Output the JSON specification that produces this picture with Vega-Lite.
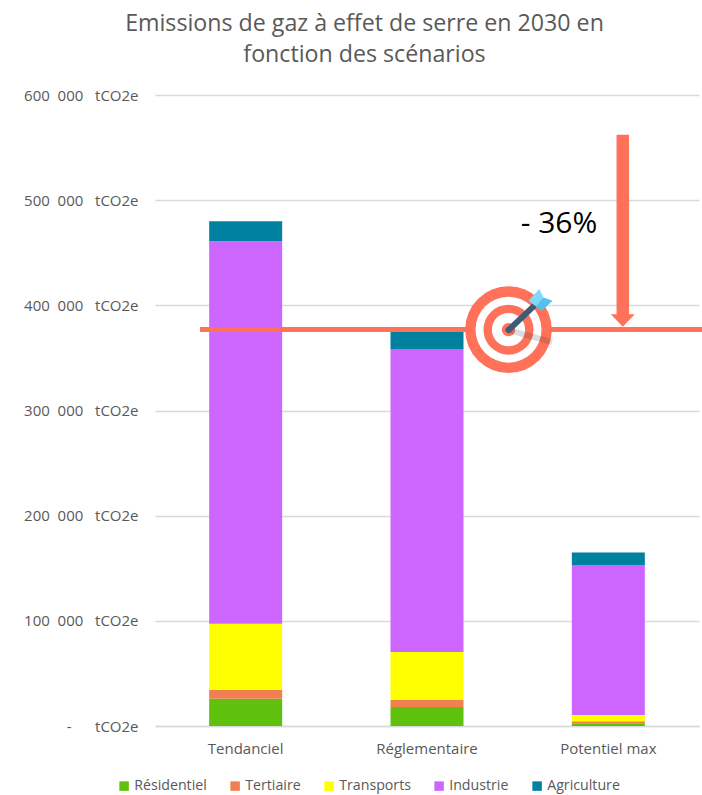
{"$schema":"https://vega.github.io/schema/vega-lite/v6.json","width":544,"height":631,"autosize":{"type":"none"},"padding":{"left":155,"top":95,"right":3,"bottom":69},"background":"white",
"title":{"text":["Emissions de gaz à effet de serre en 2030 en","fonction des scénarios"],"font":"Open Sans","fontSize":23.2,"fontWeight":"normal","color":"#595959","lineHeight":31,"anchor":"middle","dx":-62.5,"offset":21},
"config":{"view":{"stroke":null},"legend":{"labelFont":"Open Sans"}},
"datasets":{"bars":[
{"scenario":"Tendanciel","secteur":"Résidentiel","rang":1,"val":26000},
{"scenario":"Tendanciel","secteur":"Tertiaire","rang":2,"val":8500},
{"scenario":"Tendanciel","secteur":"Transports","rang":3,"val":62700},
{"scenario":"Tendanciel","secteur":"Industrie","rang":4,"val":363800},
{"scenario":"Tendanciel","secteur":"Agriculture","rang":5,"val":19000},
{"scenario":"Réglementaire","secteur":"Résidentiel","rang":1,"val":18000},
{"scenario":"Réglementaire","secteur":"Tertiaire","rang":2,"val":6700},
{"scenario":"Réglementaire","secteur":"Transports","rang":3,"val":45600},
{"scenario":"Réglementaire","secteur":"Industrie","rang":4,"val":287700},
{"scenario":"Réglementaire","secteur":"Agriculture","rang":5,"val":17500},
{"scenario":"Potentiel max","secteur":"Résidentiel","rang":1,"val":2500},
{"scenario":"Potentiel max","secteur":"Tertiaire","rang":2,"val":2000},
{"scenario":"Potentiel max","secteur":"Transports","rang":3,"val":6000},
{"scenario":"Potentiel max","secteur":"Industrie","rang":4,"val":142500},
{"scenario":"Potentiel max","secteur":"Agriculture","rang":5,"val":12000}],
"objectif":[{"a":45,"b":547,"v":377000}],
"fleche":[{"a":467.8,"v":562300,"v2":389700}],
"pointe":[{"a":467.8,"v":385500}],
"cible":[{"a":353.5,"v":376900}],
"ombre":[{"a":353.5,"b":397,"v":376500,"v2":365000}],
"dard":[{"a":353.5,"b":378,"v":376500,"v2":398500}],
"plume":[{"a":385.5,"v":405000}],
"label":[{"a":404,"v":468600,"t":"- 36%"}]},
"resolve":{"scale":{"x":"independent"}},
"layer":[
{"data":{"name":"bars"},"mark":{"type":"bar","width":73},
"encoding":{"x":{"field":"scenario","type":"nominal","sort":["Tendanciel","Réglementaire","Potentiel max"],"title":null,"axis":{"labelAngle":0,"labelFont":"Open Sans","labelFontSize":15,"labelColor":"#595959","ticks":false,"domainColor":"#d9d9d9","domainWidth":1.5,"labelPadding":15,"grid":false}},
"y":{"field":"val","type":"quantitative","stack":"zero","scale":{"domain":[0,600000],"nice":false},"title":null,"axis":{"values":[0,100000,200000,300000,400000,500000,600000],"grid":true,"gridColor":"#d9d9d9","gridWidth":1.5,"domain":false,"ticks":false,"labelFont":"Open Sans","labelFontSize":15,"labelColor":"#595959","labelPadding":17,"labelExpr":"datum.value==0?'-\u00a0\u00a0\u00a0\u00a0\u00a0\u00a0tCO2e':replace(format(datum.value,',d'),',','\u00a0\u00a0')+'\u00a0\u00a0\u00a0tCO2e'"}},
"order":{"field":"rang","type":"ordinal"},
"color":{"field":"secteur","type":"nominal","sort":["Résidentiel","Tertiaire","Transports","Industrie","Agriculture"],"scale":{"domain":["Résidentiel","Tertiaire","Transports","Industrie","Agriculture"],"range":["#5fc10e","#f08050","#ffff00","#cc66ff","#00819f"]},"legend":{"title":null,"orient":"none","legendX":-38,"legendY":684,"direction":"horizontal","columns":5,"gridAlign":"none","columnPadding":21,"symbolType":"square","symbolSize":90,"symbolStrokeWidth":0,"labelFontSize":14.2,"labelColor":"#595959","labelOffset":3}}}},
{"data":{"name":"objectif"},"mark":{"type":"rule","color":"#ff7158","strokeWidth":5,"clip":false},"encoding":{"x":{"field":"a","type":"quantitative","axis":null,"scale":{"domain":[0,544]}},"x2":{"field":"b"},"y":{"field":"v","type":"quantitative","title":null}}},
{"data":{"name":"fleche"},"mark":{"type":"rule","color":"#ff7158","strokeWidth":12.5},"encoding":{"x":{"field":"a","type":"quantitative","axis":null,"scale":{"domain":[0,544]}},"y":{"field":"v","type":"quantitative","title":null},"y2":{"field":"v2"}}},
{"data":{"name":"pointe"},"mark":{"type":"point","filled":true,"opacity":1,"color":"#ff7158","size":576,"shape":"M-1,-0.52L1,-0.52L0,0.52Z"},"encoding":{"x":{"field":"a","type":"quantitative","axis":null,"scale":{"domain":[0,544]}},"y":{"field":"v","type":"quantitative","title":null}}},
{"data":{"name":"cible"},"encoding":{"x":{"field":"a","type":"quantitative","axis":null,"scale":{"domain":[0,544]}},"y":{"field":"v","type":"quantitative","title":null}},"layer":[
{"mark":{"type":"point","shape":"circle","filled":true,"opacity":1,"color":"#ff7158","size":7500}},
{"mark":{"type":"point","shape":"circle","filled":true,"opacity":1,"color":"#ffffff","size":4356}},
{"mark":{"type":"point","shape":"circle","filled":true,"opacity":1,"color":"#ff7158","size":2500}},
{"mark":{"type":"point","shape":"circle","filled":true,"opacity":1,"color":"#ffffff","size":1110}},
{"mark":{"type":"point","shape":"circle","filled":true,"opacity":1,"color":"#ff7158","size":180}}]},
{"data":{"name":"ombre"},"mark":{"type":"rule","color":"#1f2d3d","opacity":0.16,"strokeWidth":6},"encoding":{"x":{"field":"a","type":"quantitative","axis":null,"scale":{"domain":[0,544]}},"x2":{"field":"b"},"y":{"field":"v","type":"quantitative","title":null},"y2":{"field":"v2"}}},
{"data":{"name":"dard"},"mark":{"type":"rule","color":"#3f5c75","strokeWidth":6,"strokeCap":"round"},"encoding":{"x":{"field":"a","type":"quantitative","axis":null,"scale":{"domain":[0,544]}},"x2":{"field":"b"},"y":{"field":"v","type":"quantitative","title":null},"y2":{"field":"v2"}}},
{"data":{"name":"plume"},"encoding":{"x":{"field":"a","type":"quantitative","axis":null,"scale":{"domain":[0,544]}},"y":{"field":"v","type":"quantitative","title":null}},"layer":[
{"mark":{"type":"point","filled":true,"opacity":1,"color":"#55bfee","size":576,"shape":"M-1,0.06L0.25,-0.22L1,0.06L0.1,0.9Z"}},
{"mark":{"type":"point","filled":true,"opacity":1,"color":"#82d8fb","size":576,"shape":"M-1,0.06L-0.1,-0.92L0.25,-0.22L-0.35,0.5Z"}}]},
{"data":{"name":"label"},"mark":{"type":"text","font":"Open Sans","fontSize":30,"color":"#000000","align":"center","baseline":"alphabetic"},"encoding":{"x":{"field":"a","type":"quantitative","axis":null,"scale":{"domain":[0,544]}},"y":{"field":"v","type":"quantitative","title":null},"text":{"field":"t"}}}
]}
